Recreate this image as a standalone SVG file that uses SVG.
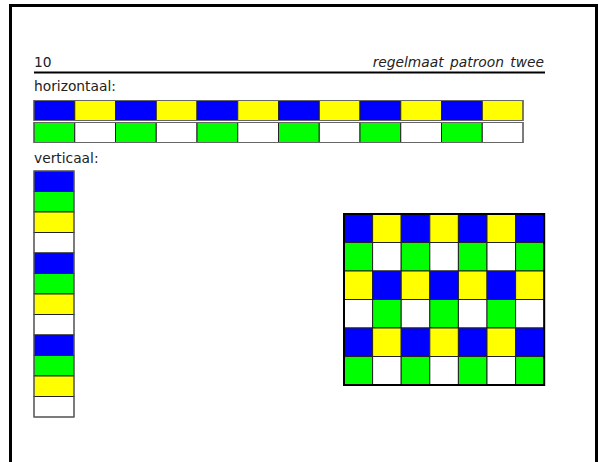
<svg xmlns="http://www.w3.org/2000/svg" width="599" height="462" viewBox="0 0 599 462">
<style>
text{font-family:"DejaVu Sans","Verdana",sans-serif;font-size:13.8px;fill:#222}
.it{font-style:italic;word-spacing:2px}
.c{stroke:#222;stroke-width:1}
.b{fill:#0000ff}.y{fill:#ffff00}.g{fill:#00ff00}.w{fill:#ffffff}
</style>
<rect id="page" x="10.5" y="5.5" width="586" height="480" fill="#fff" stroke="#000" stroke-width="3"/>
<g id="header">
<text x="34" y="67">10</text>
<text class="it" x="544" y="67" text-anchor="end">regelmaat patroon twee</text>
<line x1="34" y1="72.5" x2="545" y2="72.5" stroke="#000" stroke-width="2"/>
<text x="34" y="91">horizontaal:</text>
<text x="34" y="163">verticaal:</text>
</g>
<g id="horizontal" class="c">
<rect class="b" x="34" y="100.5" width="40.75" height="20"/>
<rect class="y" x="74.75" y="100.5" width="40.75" height="20"/>
<rect class="b" x="115.5" y="100.5" width="40.75" height="20"/>
<rect class="y" x="156.25" y="100.5" width="40.75" height="20"/>
<rect class="b" x="197" y="100.5" width="40.75" height="20"/>
<rect class="y" x="237.75" y="100.5" width="40.75" height="20"/>
<rect class="b" x="278.5" y="100.5" width="40.75" height="20"/>
<rect class="y" x="319.25" y="100.5" width="40.75" height="20"/>
<rect class="b" x="360" y="100.5" width="40.75" height="20"/>
<rect class="y" x="400.75" y="100.5" width="40.75" height="20"/>
<rect class="b" x="441.5" y="100.5" width="40.75" height="20"/>
<rect class="y" x="482.25" y="100.5" width="40.75" height="20"/>
<rect class="g" x="34" y="122.5" width="40.75" height="20"/>
<rect class="w" x="74.75" y="122.5" width="40.75" height="20"/>
<rect class="g" x="115.5" y="122.5" width="40.75" height="20"/>
<rect class="w" x="156.25" y="122.5" width="40.75" height="20"/>
<rect class="g" x="197" y="122.5" width="40.75" height="20"/>
<rect class="w" x="237.75" y="122.5" width="40.75" height="20"/>
<rect class="g" x="278.5" y="122.5" width="40.75" height="20"/>
<rect class="w" x="319.25" y="122.5" width="40.75" height="20"/>
<rect class="g" x="360" y="122.5" width="40.75" height="20"/>
<rect class="w" x="400.75" y="122.5" width="40.75" height="20"/>
<rect class="g" x="441.5" y="122.5" width="40.75" height="20"/>
<rect class="w" x="482.25" y="122.5" width="40.75" height="20"/>
<rect x="34" y="100.5" width="489" height="20" fill="none" stroke="#666"/>
<rect x="34" y="122.5" width="489" height="20" fill="none" stroke="#666"/>
</g>
<g id="vertical" class="c">
<rect class="b" x="34" y="171" width="40" height="20.5"/>
<rect class="g" x="34" y="191.5" width="40" height="20.5"/>
<rect class="y" x="34" y="212" width="40" height="20.5"/>
<rect class="w" x="34" y="232.5" width="40" height="20.5"/>
<rect class="b" x="34" y="253" width="40" height="20.5"/>
<rect class="g" x="34" y="273.5" width="40" height="20.5"/>
<rect class="y" x="34" y="294" width="40" height="20.5"/>
<rect class="w" x="34" y="314.5" width="40" height="20.5"/>
<rect class="b" x="34" y="335" width="40" height="20.5"/>
<rect class="g" x="34" y="355.5" width="40" height="20.5"/>
<rect class="y" x="34" y="376" width="40" height="20.5"/>
<rect class="w" x="34" y="396.5" width="40" height="20.5"/>
<rect x="34" y="171" width="40" height="246" fill="none" stroke="#666"/>
</g>
<g id="grid" class="c">
<rect class="b" x="344" y="214" width="28.6" height="28.5"/>
<rect class="y" x="372.6" y="214" width="28.6" height="28.5"/>
<rect class="b" x="401.2" y="214" width="28.6" height="28.5"/>
<rect class="y" x="429.8" y="214" width="28.6" height="28.5"/>
<rect class="b" x="458.4" y="214" width="28.6" height="28.5"/>
<rect class="y" x="487" y="214" width="28.6" height="28.5"/>
<rect class="b" x="515.6" y="214" width="28.6" height="28.5"/>
<rect class="g" x="344" y="242.5" width="28.6" height="28.5"/>
<rect class="w" x="372.6" y="242.5" width="28.6" height="28.5"/>
<rect class="g" x="401.2" y="242.5" width="28.6" height="28.5"/>
<rect class="w" x="429.8" y="242.5" width="28.6" height="28.5"/>
<rect class="g" x="458.4" y="242.5" width="28.6" height="28.5"/>
<rect class="w" x="487" y="242.5" width="28.6" height="28.5"/>
<rect class="g" x="515.6" y="242.5" width="28.6" height="28.5"/>
<rect class="y" x="344" y="271" width="28.6" height="28.5"/>
<rect class="b" x="372.6" y="271" width="28.6" height="28.5"/>
<rect class="y" x="401.2" y="271" width="28.6" height="28.5"/>
<rect class="b" x="429.8" y="271" width="28.6" height="28.5"/>
<rect class="y" x="458.4" y="271" width="28.6" height="28.5"/>
<rect class="b" x="487" y="271" width="28.6" height="28.5"/>
<rect class="y" x="515.6" y="271" width="28.6" height="28.5"/>
<rect class="w" x="344" y="299.5" width="28.6" height="28.5"/>
<rect class="g" x="372.6" y="299.5" width="28.6" height="28.5"/>
<rect class="w" x="401.2" y="299.5" width="28.6" height="28.5"/>
<rect class="g" x="429.8" y="299.5" width="28.6" height="28.5"/>
<rect class="w" x="458.4" y="299.5" width="28.6" height="28.5"/>
<rect class="g" x="487" y="299.5" width="28.6" height="28.5"/>
<rect class="w" x="515.6" y="299.5" width="28.6" height="28.5"/>
<rect class="b" x="344" y="328" width="28.6" height="28.5"/>
<rect class="y" x="372.6" y="328" width="28.6" height="28.5"/>
<rect class="b" x="401.2" y="328" width="28.6" height="28.5"/>
<rect class="y" x="429.8" y="328" width="28.6" height="28.5"/>
<rect class="b" x="458.4" y="328" width="28.6" height="28.5"/>
<rect class="y" x="487" y="328" width="28.6" height="28.5"/>
<rect class="b" x="515.6" y="328" width="28.6" height="28.5"/>
<rect class="g" x="344" y="356.5" width="28.6" height="28.5"/>
<rect class="w" x="372.6" y="356.5" width="28.6" height="28.5"/>
<rect class="g" x="401.2" y="356.5" width="28.6" height="28.5"/>
<rect class="w" x="429.8" y="356.5" width="28.6" height="28.5"/>
<rect class="g" x="458.4" y="356.5" width="28.6" height="28.5"/>
<rect class="w" x="487" y="356.5" width="28.6" height="28.5"/>
<rect class="g" x="515.6" y="356.5" width="28.6" height="28.5"/>
<rect x="344" y="214" width="200.2" height="171" fill="none" stroke="#000" stroke-width="2"/>
</g>
</svg>
